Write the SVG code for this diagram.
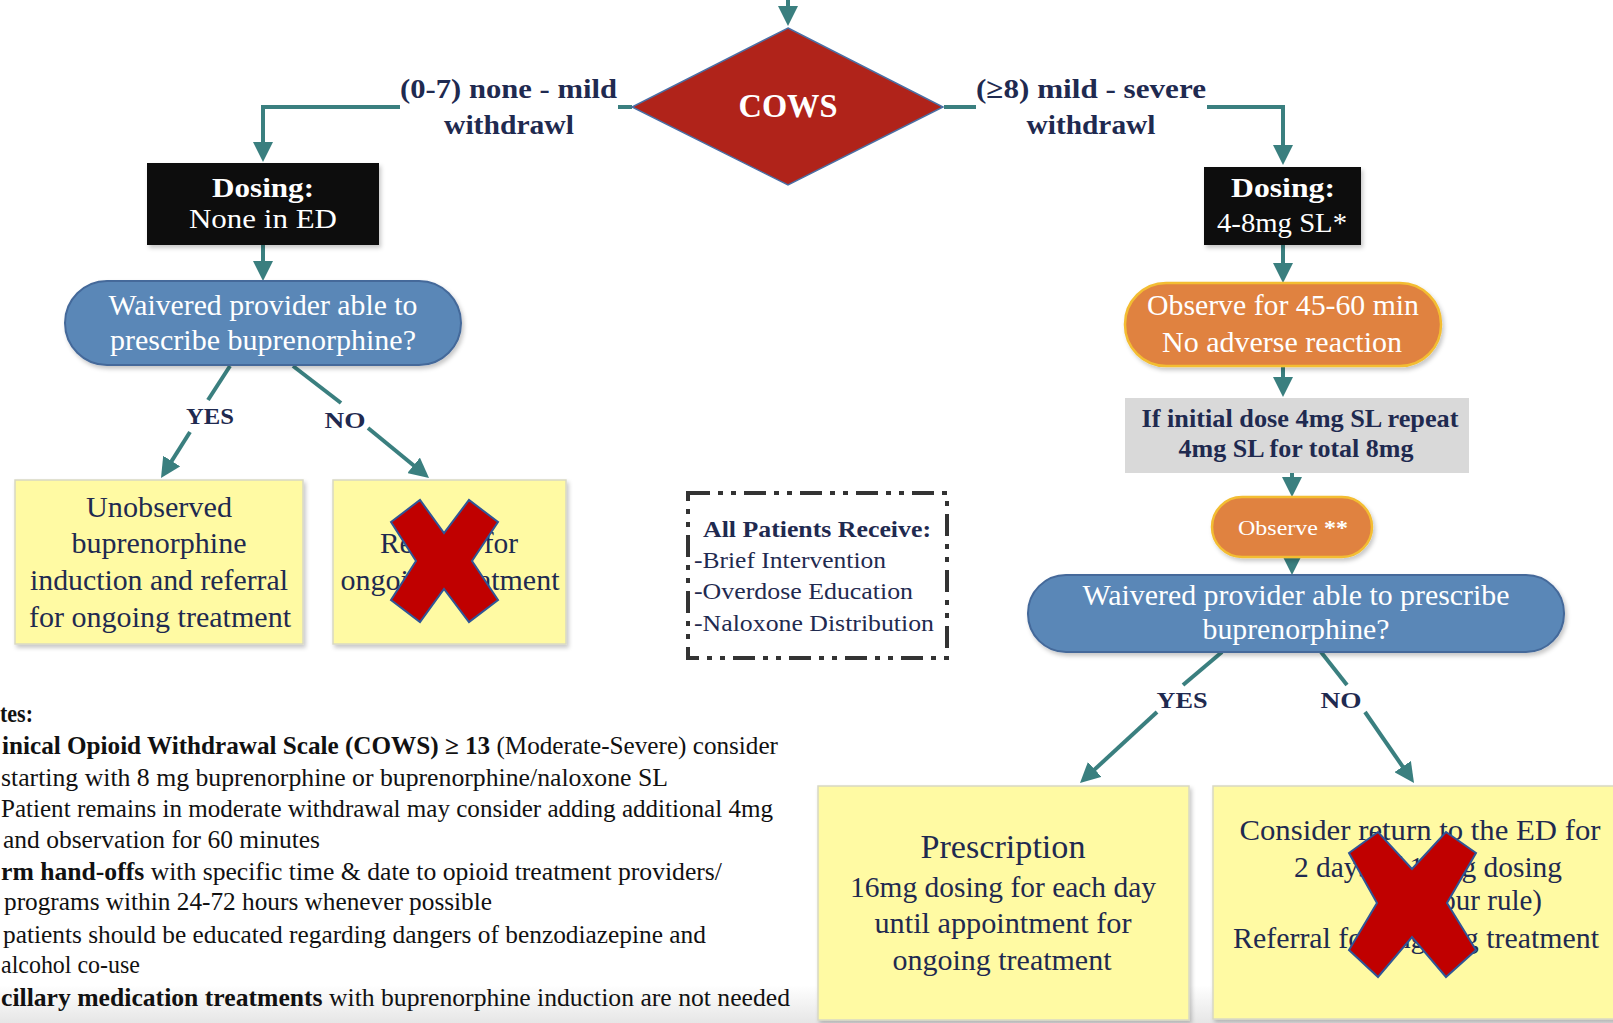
<svg xmlns="http://www.w3.org/2000/svg" width="1613" height="1023" viewBox="0 0 1613 1023">
<defs>
<style>
text{font-family:"Liberation Serif","Times New Roman",serif;}
.nv{fill:#1f2a50;}
.wh{fill:#ffffff;}
.b{font-weight:bold;}
.c{text-anchor:middle;}
.conn{fill:none;stroke:#3a7f7f;stroke-width:4;}
.yel{fill:#fffaa3;stroke:#d8d8c4;stroke-width:1.5;}
.blue{fill:#5a87b7;stroke:#44699a;stroke-width:2;}
.orng{fill:#e08240;stroke:#f3bd33;stroke-width:2.5;}
.xmark{fill:#c00000;stroke:#2f5597;stroke-width:2;stroke-linejoin:miter;}
.note{font-size:25px;fill:#111111;}
</style>
<marker id="ah" viewBox="0 0 20 20" refX="14" refY="10" markerWidth="20" markerHeight="20" markerUnits="userSpaceOnUse" orient="auto">
<path d="M0,0 L20,10 L0,20 z" fill="#3a7f7f"/>
</marker>
<filter id="sh" x="-10%" y="-10%" width="130%" height="140%">
<feDropShadow dx="2" dy="3" stdDeviation="2" flood-color="#000000" flood-opacity="0.22"/>
</filter>
<linearGradient id="bot" x1="0" y1="0" x2="0" y2="1">
<stop offset="0" stop-color="#ffffff"/>
<stop offset="1" stop-color="#e6e6e6"/>
</linearGradient>
</defs>
<rect x="0" y="0" width="1613" height="1023" fill="#ffffff"/>
<rect x="0" y="985" width="1613" height="38" fill="url(#bot)"/>

<g id="connectors">
<path class="conn" d="M788,0 L788,20" marker-end="url(#ah)"/>
<path class="conn" d="M632,107 L618,107"/>
<path class="conn" d="M400,107 L263,107 L263,156" marker-end="url(#ah)"/>
<path class="conn" d="M944,107 L976,107"/>
<path class="conn" d="M1207,107 L1283,107 L1283,159" marker-end="url(#ah)"/>
<path class="conn" d="M263,245 L263,275" marker-end="url(#ah)"/>
<path class="conn" d="M230,366 L208,400"/>
<path class="conn" d="M190,432 L164.2,472.9" marker-end="url(#ah)"/>
<path class="conn" d="M293,366 L341,403"/>
<path class="conn" d="M368,428 L424.4,474.2" marker-end="url(#ah)"/>
<path class="conn" d="M1283,245 L1283,277" marker-end="url(#ah)"/>
<path class="conn" d="M1283,366 L1283,391" marker-end="url(#ah)"/>
<path class="conn" d="M1292,473 L1292,491" marker-end="url(#ah)"/>
<path class="conn" d="M1292,557 L1292,569" marker-end="url(#ah)"/>
<path class="conn" d="M1222,652 L1183,685"/>
<path class="conn" d="M1157,712 L1084.4,778.9" marker-end="url(#ah)"/>
<path class="conn" d="M1321,652 L1347,685"/>
<path class="conn" d="M1365,712 L1410.6,778.1" marker-end="url(#ah)"/>
</g>

<g id="edge-labels">
<text class="nv b" x="400" y="98" font-size="28" textLength="217" lengthAdjust="spacingAndGlyphs">(0-7) none - mild</text>
<text class="nv b c" x="509" y="134" font-size="28" textLength="130" lengthAdjust="spacingAndGlyphs">withdrawl</text>
<text class="nv b" x="976" y="98" font-size="28" textLength="230" lengthAdjust="spacingAndGlyphs">(≥8) mild - severe</text>
<text class="nv b c" x="1091" y="134" font-size="28" textLength="129" lengthAdjust="spacingAndGlyphs">withdrawl</text>
<text class="nv b c" x="210" y="424" font-size="24" textLength="48" lengthAdjust="spacingAndGlyphs">YES</text>
<text class="nv b c" x="345" y="428" font-size="24" textLength="41" lengthAdjust="spacingAndGlyphs">NO</text>
<text class="nv b c" x="1182" y="708" font-size="24" textLength="51" lengthAdjust="spacingAndGlyphs">YES</text>
<text class="nv b c" x="1341" y="708" font-size="24" textLength="41" lengthAdjust="spacingAndGlyphs">NO</text>
</g>

<g id="cows">
<polygon points="788,28 943,107 788,185 632,107" fill="#b0231a" stroke="#4a6fa5" stroke-width="1.5"/>
<text class="wh b c" x="788" y="117" font-size="33" textLength="99" lengthAdjust="spacingAndGlyphs">COWS</text>
</g>

<g id="dosing-left">
<rect x="147" y="163" width="232" height="82" fill="#0c0c0c" filter="url(#sh)"/>
<text class="wh b c" x="263" y="197" font-size="28" textLength="102" lengthAdjust="spacingAndGlyphs">Dosing:</text>
<text class="wh c" x="263" y="228" font-size="28" textLength="148" lengthAdjust="spacingAndGlyphs">None in ED</text>
</g>

<g id="dosing-right">
<rect x="1204" y="167" width="157" height="78" fill="#0c0c0c" filter="url(#sh)"/>
<text class="wh b c" x="1283" y="197" font-size="28" textLength="104" lengthAdjust="spacingAndGlyphs">Dosing:</text>
<text class="wh c" x="1282" y="232" font-size="28" textLength="130" lengthAdjust="spacingAndGlyphs">4-8mg SL*</text>
</g>

<g id="waivered-left">
<rect class="blue" x="65" y="281" width="396" height="84" rx="42" ry="42" filter="url(#sh)"/>
<text class="wh c" x="263" y="315" font-size="29" textLength="309" lengthAdjust="spacingAndGlyphs">Waivered provider able to</text>
<text class="wh c" x="263" y="350" font-size="29" textLength="306" lengthAdjust="spacingAndGlyphs">prescribe buprenorphine?</text>
</g>

<g id="unobserved">
<rect class="yel" x="15" y="480" width="288" height="164" filter="url(#sh)"/>
<text class="nv c" x="159" y="517" font-size="29" textLength="146" lengthAdjust="spacingAndGlyphs">Unobserved</text>
<text class="nv c" x="159" y="553" font-size="29" textLength="175" lengthAdjust="spacingAndGlyphs">buprenorphine</text>
<text class="nv c" x="159" y="590" font-size="29" textLength="258" lengthAdjust="spacingAndGlyphs">induction and referral</text>
<text class="nv c" x="160" y="627" font-size="29" textLength="262" lengthAdjust="spacingAndGlyphs">for ongoing treatment</text>
</g>

<g id="referral-left">
<rect class="yel" x="333" y="480" width="233" height="164" filter="url(#sh)"/>
<text class="nv c" x="449" y="553" font-size="29" textLength="138" lengthAdjust="spacingAndGlyphs">Referral for</text>
<text class="nv c" x="450" y="590" font-size="29" textLength="219" lengthAdjust="spacingAndGlyphs">ongoing treatment</text>
<polygon class="xmark" points="391,522 420,500 444,533 469,500 498,522 472,561 498,600 469,622 444,589 420,622 391,600 416,561"/>
</g>

<g id="all-patients">
<rect x="688" y="493" width="259" height="165" fill="none" stroke="#333333" stroke-width="4" stroke-dasharray="22 8 5 8 5 8"/>
<text class="nv b" x="703" y="537" font-size="23" textLength="228" lengthAdjust="spacingAndGlyphs">All Patients Receive:</text>
<text class="nv" x="694" y="568" font-size="23" textLength="192" lengthAdjust="spacingAndGlyphs">-Brief Intervention</text>
<text class="nv" x="694" y="599" font-size="23" textLength="219" lengthAdjust="spacingAndGlyphs">-Overdose Education</text>
<text class="nv" x="694" y="631" font-size="23" textLength="240" lengthAdjust="spacingAndGlyphs">-Naloxone Distribution</text>
</g>

<g id="observe-45">
<rect class="orng" x="1125" y="283" width="316" height="83" rx="41" ry="41" filter="url(#sh)"/>
<text class="wh c" x="1283" y="315" font-size="29" textLength="272" lengthAdjust="spacingAndGlyphs">Observe for 45-60 min</text>
<text class="wh c" x="1282" y="352" font-size="29" textLength="240" lengthAdjust="spacingAndGlyphs">No adverse reaction</text>
</g>

<g id="repeat-dose">
<rect x="1125" y="398" width="344" height="75" fill="#d9d9d9"/>
<text class="nv b c" x="1300" y="427" font-size="25" textLength="317" lengthAdjust="spacingAndGlyphs">If initial dose 4mg SL repeat</text>
<text class="nv b c" x="1296" y="457" font-size="25" textLength="235" lengthAdjust="spacingAndGlyphs">4mg SL for total 8mg</text>
</g>

<g id="observe-star">
<rect class="orng" x="1212" y="497" width="160" height="60" rx="30" ry="30" filter="url(#sh)"/>
<text class="wh c" x="1293" y="535" font-size="22" textLength="110" lengthAdjust="spacingAndGlyphs">Observe <tspan class="b">**</tspan></text>
</g>

<g id="waivered-right">
<rect class="blue" x="1028" y="575" width="536" height="77" rx="38" ry="38" filter="url(#sh)"/>
<text class="wh c" x="1296" y="605" font-size="29" textLength="427" lengthAdjust="spacingAndGlyphs">Waivered provider able to prescribe</text>
<text class="wh c" x="1296" y="639" font-size="29" textLength="187" lengthAdjust="spacingAndGlyphs">buprenorphine?</text>
</g>

<g id="prescription">
<rect class="yel" x="818" y="786" width="371" height="234" filter="url(#sh)"/>
<text class="nv c" x="1003" y="858" font-size="34" textLength="165" lengthAdjust="spacingAndGlyphs">Prescription</text>
<text class="nv c" x="1003" y="897" font-size="29" textLength="306" lengthAdjust="spacingAndGlyphs">16mg dosing for each day</text>
<text class="nv c" x="1003" y="933" font-size="29" textLength="257" lengthAdjust="spacingAndGlyphs">until appointment for</text>
<text class="nv c" x="1002" y="970" font-size="29" textLength="219" lengthAdjust="spacingAndGlyphs">ongoing treatment</text>
</g>

<g id="return-ed">
<rect class="yel" x="1213" y="786" width="410" height="233" filter="url(#sh)"/>
<text class="nv c" x="1420" y="840" font-size="29" textLength="361" lengthAdjust="spacingAndGlyphs">Consider return to the ED for</text>
<text class="nv c" x="1428" y="877" font-size="29" textLength="268" lengthAdjust="spacingAndGlyphs">2 days of 16mg dosing</text>
<text class="nv" x="1542" y="910" font-size="29" text-anchor="end">(72-hour rule)</text>
<text class="nv c" x="1416" y="948" font-size="29" textLength="366" lengthAdjust="spacingAndGlyphs">Referral for ongoing treatment</text>
<polygon class="xmark" points="1349,853 1378,832 1412,869 1446,832 1476,853 1447,903 1476,950 1446,977 1412,937 1378,977 1349,950 1377,903"/>
</g>

<g id="notes">
<text class="note b" x="0" y="722" textLength="33" lengthAdjust="spacingAndGlyphs">tes:</text>
<text class="note" x="2" y="754" textLength="776" lengthAdjust="spacingAndGlyphs"><tspan class="b">inical Opioid Withdrawal Scale (COWS) ≥ 13</tspan> (Moderate-Severe) consider</text>
<text class="note" x="1" y="786" textLength="667" lengthAdjust="spacingAndGlyphs">starting with 8 mg buprenorphine or buprenorphine/naloxone SL</text>
<text class="note" x="1" y="817" textLength="772" lengthAdjust="spacingAndGlyphs">Patient remains in moderate withdrawal may consider adding additional 4mg</text>
<text class="note" x="3" y="848" textLength="317" lengthAdjust="spacingAndGlyphs">and observation for 60 minutes</text>
<text class="note" x="1" y="880" textLength="721" lengthAdjust="spacingAndGlyphs"><tspan class="b">rm hand-offs</tspan> with specific time &amp; date to opioid treatment providers/</text>
<text class="note" x="4" y="910" textLength="488" lengthAdjust="spacingAndGlyphs">programs within 24-72 hours whenever possible</text>
<text class="note" x="3" y="943" textLength="703" lengthAdjust="spacingAndGlyphs">patients should be educated regarding dangers of benzodiazepine and</text>
<text class="note" x="1" y="973" textLength="139" lengthAdjust="spacingAndGlyphs">alcohol co-use</text>
<text class="note" x="1" y="1006" textLength="789" lengthAdjust="spacingAndGlyphs"><tspan class="b">cillary medication treatments</tspan> with buprenorphine induction are not needed</text>
</g>
</svg>
